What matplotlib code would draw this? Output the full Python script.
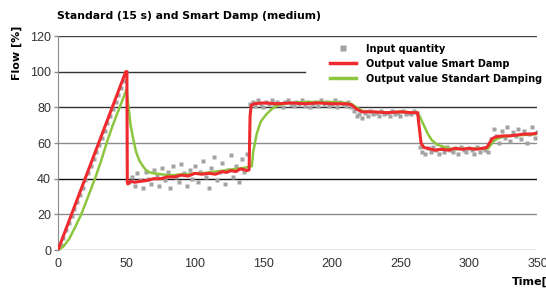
import numpy as np
import matplotlib
matplotlib.use("Agg")
import matplotlib.pyplot as plt
from matplotlib.lines import Line2D

# input quantity (grey squares), one sample every 2 s
input_time = np.arange(0, 351, 2)
input_ramp = [0, 3, 7, 11, 15, 19, 23, 27, 31, 35, 39, 43, 47, 51, 55, 59, 63, 67, 71, 75,
              79, 83, 87, 91, 95, 100]
input_low = [38, 41, 36, 43, 39, 35, 44, 40, 37, 45, 42, 36, 46, 39, 44, 35, 47, 41, 38, 48,
             43, 36, 45, 40, 47, 38, 44, 50, 41, 35, 46, 52, 39, 44, 49, 37, 45, 53, 41, 47,
             38, 51, 44, 54, 82]
input_high = [83, 81, 84, 82, 80, 83, 82, 84, 81, 83, 82, 80, 83, 84, 82, 81, 83, 82, 84, 81,
              83, 80, 82, 83, 81, 84, 82, 83, 81, 82, 84, 80, 83, 82, 81, 83, 80]
input_mid = [78, 75, 76, 74, 77, 75, 78, 76, 77, 75, 78, 76, 77, 75, 78, 76, 77, 75, 78, 76,
             77, 76, 78, 77]
input_dip = [58, 55, 54, 57, 55, 58, 56, 54, 57, 55, 58, 56, 55, 57, 54, 58, 56, 55, 57, 56,
             54, 58, 55, 57, 56, 55]
input_end = [62, 68, 64, 60, 67, 63, 69, 61, 66, 64, 68, 62, 67, 60, 65, 69, 63, 66]
input_value = input_ramp + input_low + input_high + input_mid + input_dip + input_end

# output value Smart Damp (red)
smart_time = [0, 49.5, 50.3, 50.6, 51, 53, 56, 60, 65, 70, 75, 80, 85, 90, 95, 100, 105, 110,
              115, 120, 123, 126, 130, 133, 136, 138, 139.5, 140.2, 141, 143, 150, 160, 170,
              180, 190, 200, 210, 214, 218, 222, 230, 240, 250, 258, 262.5, 263.5, 265, 267,
              270, 275, 280, 285, 290, 295, 300, 305, 310, 313, 315, 317, 320, 325, 330, 335,
              340, 345, 350]
smart_value = [0, 100, 100, 38, 37, 38.5, 38, 38.5, 39, 40, 40, 41, 41, 42, 41.5, 43, 42.5, 43,
               42.5, 44, 43.5, 44.5, 44, 45.5, 45, 44.5, 45, 75, 81, 82, 82.5, 82, 82.5,
               82, 82.5, 82, 82, 81.5, 79, 77.5, 77.5, 77, 77.5, 77, 77, 70, 60, 57.5,
               57, 56, 56.5, 56, 57, 56.5, 57, 56.5, 57, 57.5, 60, 62.5, 63.5, 64, 64, 64.5,
               65, 65, 65.5]

# output value Standart Damping (green)
std_time = [0, 4, 8, 12, 17, 22, 27, 31.5, 35.5, 40, 45, 50, 51.5, 53, 55, 57, 59.5, 62, 64,
            67, 70, 75, 80, 85, 90, 95, 100, 105, 110, 115, 120, 125, 130, 135, 139, 141.5,
            142.5, 145, 148, 152, 156, 160, 165, 170, 180, 190, 200, 210, 214, 218, 222, 228,
            240, 250, 262, 264, 267, 270, 273, 277, 281, 285, 290, 300, 310, 314, 316, 318,
            321, 325, 330, 340, 350]
std_value = [0, 2, 6, 12, 20, 30, 40, 50, 60, 70, 80, 90, 80, 70, 62, 55, 50, 47, 45,
             43.5, 43, 42.5, 42, 42, 42.5, 42.5, 43, 43, 43.5, 44, 44.5, 45, 45.5, 46, 46.5, 47,
             55, 65, 72, 76, 79, 81, 82, 82.5, 83, 83, 83, 82.5, 82, 80, 78, 77.5,
             77, 77.5, 77, 75, 70, 65, 61.5, 59, 58, 57, 56.5, 57, 57, 57, 59, 61,
             62.5, 63.5, 64, 64.5, 65]

x_ticks = [0, 50, 100, 150, 200, 250, 300, 350]
y_ticks = [0, 20, 40, 60, 80, 100, 120]

RED = "#ee2a2f"
GREEN = "#8cc63e"
GREY = "#a3a3a3"
condensed = ["DejaVu Sans Condensed", "DejaVu Sans"]

fig = plt.figure(figsize=(5.46, 2.92), dpi=100)
ax = fig.add_axes([0.1062, 0.1438, 0.8782, 0.7329])

# horizontal grid, coloured like the original
grid_colors = {0: "#8c8c8c", 20: "#8c8c8c", 40: "#111111", 60: "#8c8c8c",
               80: "#333333", 100: "#333333", 120: "#444444"}
for yv in y_ticks:
    xmax = 0.515 if yv == 100 else 1.0
    ax.axhline(yv, xmin=0, xmax=xmax, color=grid_colors[yv], lw=1.0, zorder=1)

ax.plot(input_time, input_value, ls="none", marker="s", ms=3.2, color=GREY, mec="none", zorder=2)
ax.plot(std_time, std_value, color=GREEN, lw=1.8, zorder=3)
ax.plot(smart_time, smart_value, color=RED, lw=2.2, zorder=4)

ax.set_xlim(0, 350)
ax.set_ylim(0, 120)
ax.set_xticks(x_ticks)
ax.set_yticks(y_ticks)
ax.tick_params(axis="x", length=0, pad=6, labelsize=9, labelcolor="#333333")
ax.tick_params(axis="y", length=3, width=1, color="#8c8c8c", pad=2, labelsize=9,
               labelcolor="#333333")
for s in ["top", "right"]:
    ax.spines[s].set_visible(False)
ax.spines["left"].set_color("#8c8c8c")
ax.spines["bottom"].set_visible(False)
for lab in ax.get_xticklabels() + ax.get_yticklabels():
    lab.set_family("Liberation Sans")

handles = [
    Line2D([], [], ls="none", marker="s", ms=5, color=GREY, mec="none"),
    Line2D([], [], color=RED, lw=2.5),
    Line2D([], [], color=GREEN, lw=2.5),
]
labels = ["Input quantity", "Output value Smart Damp", "Output value Standart Damping"]
fig.legend(handles, labels, loc="upper left", bbox_to_anchor=(0.588, 0.88), frameon=False,
           handlelength=2.7, handletextpad=1.0, labelspacing=0.5,
           prop={"family": condensed, "weight": "bold", "size": 7})

fig.text(0.104, 0.945, "Standard (15 s) and Smart Damp (medium)", family=condensed,
         weight="bold", size=7.8, va="center", ha="left")
fig.text(0.031, 0.82, "Flow [%]", family=condensed, weight="bold", size=8, rotation=90,
         va="center", ha="center")
fig.text(0.937, 0.018, "Time[s]", family=condensed, weight="bold", size=8, va="bottom",
         ha="left")

fig.savefig("out.png", dpi=100)
